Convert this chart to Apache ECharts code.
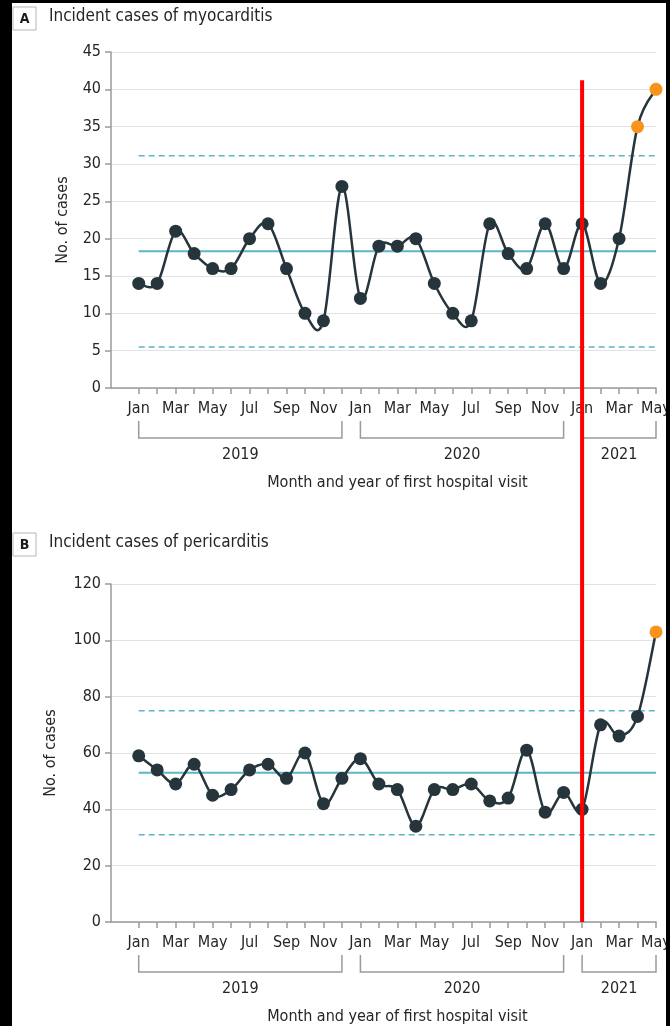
<!DOCTYPE html>
<html><head><meta charset="utf-8">
<script src="https://cdn.jsdelivr.net/npm/echarts@6/dist/echarts.min.js"></script>
<style>
html,body{margin:0;padding:0;background:#000;width:670px;height:1026px;overflow:hidden}
#chart{position:absolute;left:12px;top:3px;width:654px;height:1023px;background:#fff}
</style></head><body><div id="chart"></div>
<script>
// ---- data ----
const monthLabels = ['Jan','Feb','Mar','Apr','May','Jun','Jul','Aug','Sep','Oct','Nov','Dec',
  'Jan','Feb','Mar','Apr','May','Jun','Jul','Aug','Sep','Oct','Nov','Dec',
  'Jan','Feb','Mar','Apr','May'];
const monthIndex = monthLabels.map((m, i) => i);
const labelIndex = monthIndex.filter(i => i % 2 === 0);
const yearLabels = ['2019', '2020', '2021'];
const yearFirst = [0, 12, 24];
const yearLast = [11, 23, 28];

const myocarditis = [14,14,21,18,16,16,20,22,16,10,9,27,12,19,19,20,14,10,9,22,18,16,22,16,22,14,20,35,40];
const myoSignals = [27, 28];
const myoMean = 18.3, myoUpper = 31.1, myoLower = 5.5;

const pericarditis = [59,54,49,56,45,47,54,56,51,60,42,51,58,49,47,34,47,47,49,43,44,61,39,46,40,70,66,73,103];
const periSignals = [28];
const periMean = 53, periUpper = 75, periLower = 31;

const vaccineStart = 24;      // Jan 2021
const redTopA = 41.2;          // top of the red line, in panel A units

const titleA = 'Incident cases of myocarditis';
const titleB = 'Incident cases of pericarditis';
const xTitle = 'Month and year of first hospital visit';
const yTitle = 'No. of cases';

// ---- style ----
const FONT = "'Liberation Sans Narrow','DejaVu Sans Condensed','Open Sans',sans-serif";
const DARK = '#26353c', ORANGE = '#f7941d', TEAL = '#5db6c4', AXIS = '#9a9a9a', TXT = '#262626';
const TENSION = 1 / 6;

const chart = echarts.init(document.getElementById('chart'), null, {renderer: 'canvas'});

function xAxisCfg(gi) {
  return {
    type: 'value', gridIndex: gi, min: -1.5, max: 28,
    axisLine: {show: true, onZero: false, lineStyle: {color: AXIS, width: 1.5}},
    axisTick: {show: true, length: 6, customValues: monthIndex, lineStyle: {color: AXIS, width: 1.5}},
    axisLabel: {customValues: labelIndex, formatter: v => monthLabels[v], color: TXT,
      fontFamily: FONT, fontSize: 16, margin: 13},
    splitLine: {show: false}
  };
}
function yAxisCfg(gi, max, interval, gap) {
  return {
    type: 'value', gridIndex: gi, min: 0, max: max, interval: interval,
    name: yTitle, nameLocation: 'middle', nameGap: gap,
    nameTextStyle: {color: TXT, fontFamily: FONT, fontSize: 16},
    axisLine: {show: true, onZero: false, lineStyle: {color: AXIS, width: 1.5}},
    axisTick: {show: true, length: 6, lineStyle: {color: AXIS, width: 1.5}},
    axisLabel: {color: TXT, fontFamily: FONT, fontSize: 16, margin: 10},
    splitLine: {show: true, lineStyle: {color: '#e2e2e2', width: 1}}
  };
}
function curveSeries(gi, values) {
  const n = values.length;
  return {
    type: 'custom', xAxisIndex: gi, yAxisIndex: gi, silent: true, z: 4, clip: false,
    encode: {x: 0, y: 1},
    data: values.map((v, i) => [monthIndex[i], v]),
    renderItem: function (params, api) {
      const i = params.dataIndex;
      if (i >= n - 1) return {type: 'group', children: []};
      const P = j => {
        const c = Math.max(0, Math.min(n - 1, j));
        return api.coord([monthIndex[c], values[c]]);
      };
      const p0 = P(i - 1), p1 = P(i), p2 = P(i + 1), p3 = P(i + 2);
      return {type: 'bezierCurve', shape: {
          x1: p1[0], y1: p1[1], x2: p2[0], y2: p2[1],
          cpx1: p1[0] + (p2[0] - p0[0]) * TENSION, cpy1: p1[1] + (p2[1] - p0[1]) * TENSION,
          cpx2: p2[0] - (p3[0] - p1[0]) * TENSION, cpy2: p2[1] - (p3[1] - p1[1]) * TENSION},
        style: {stroke: DARK, lineWidth: 2.5, fill: null}};
    }
  };
}
function pointSeries(gi, values, signals) {
  return {
    type: 'scatter', xAxisIndex: gi, yAxisIndex: gi, z: 6,
    symbol: 'circle', symbolSize: 13,
    itemStyle: {color: DARK, opacity: 1},
    data: values.map((v, i) => signals.includes(i)
      ? {value: [monthIndex[i], v], itemStyle: {color: ORANGE}} : {value: [monthIndex[i], v]})
  };
}
function refSeries(gi, y, dashed) {
  return {
    type: 'line', xAxisIndex: gi, yAxisIndex: gi, symbol: 'none', z: 3, silent: true,
    lineStyle: {color: TEAL, width: dashed ? 1.5 : 2, type: dashed ? [6, 4] : 'solid'},
    data: [[monthIndex[0], y], [monthIndex[monthIndex.length - 1], y]]
  };
}
function bracketSeries(gi) {
  return {
    type: 'custom', xAxisIndex: gi, yAxisIndex: gi, silent: true, clip: false,
    encode: {x: 0, y: 1},
    data: yearLabels.map((y, k) => [yearFirst[k], 0, yearLast[k], k]),
    renderItem: function (params, api) {
      const p0 = api.coord([api.value(0), 0]);
      const p1 = api.coord([api.value(2), 0]);
      const yb = p0[1];
      return {type: 'group', children: [
        {type: 'polyline', shape: {points: [[p0[0], yb + 33], [p0[0], yb + 50], [p1[0], yb + 50], [p1[0], yb + 33]]},
          style: {stroke: AXIS, lineWidth: 1.5, fill: null}},
        {type: 'text', x: (p0[0] + p1[0]) / 2, y: yb + 67,
          style: {text: yearLabels[api.value(3)], fill: TXT, font: '16px ' + FONT, align: 'center', verticalAlign: 'middle'}}
      ]};
    }
  };
}
function xTitleSeries(gi) {
  return {
    type: 'custom', xAxisIndex: gi, yAxisIndex: gi, silent: true, clip: false,
    encode: {x: 0, y: 1},
    data: [[(monthIndex[0] + monthIndex[monthIndex.length - 1]) / 2, 0]],
    renderItem: function (params, api) {
      const p = api.coord([api.value(0), 0]);
      return {type: 'text', x: p[0], y: p[1] + 95,
        style: {text: xTitle, fill: TXT, font: '16px ' + FONT, align: 'center', verticalAlign: 'middle'}};
    }
  };
}

chart.setOption({
  animation: false,
  backgroundColor: '#fff',
  grid: [
    {left: 99, top: 49, width: 545, height: 336, outerBoundsMode: 'none', containLabel: false},
    {left: 99, top: 581, width: 545, height: 338, outerBoundsMode: 'none', containLabel: false}
  ],
  xAxis: [xAxisCfg(0), xAxisCfg(1)],
  yAxis: [yAxisCfg(0, 45, 5, 40), yAxisCfg(1, 120, 20, 52)],
  series: [
    refSeries(0, myoMean, false), refSeries(0, myoUpper, true), refSeries(0, myoLower, true),
    curveSeries(0, myocarditis), pointSeries(0, myocarditis, myoSignals),
    bracketSeries(0), xTitleSeries(0),
    refSeries(1, periMean, false), refSeries(1, periUpper, true), refSeries(1, periLower, true),
    curveSeries(1, pericarditis), pointSeries(1, pericarditis, periSignals),
    bracketSeries(1), xTitleSeries(1)
  ]
});

function panelTitle(letter, text, top) {
  return {type: 'group', x: 1, y: top, children: [
    {type: 'rect', shape: {x: 0, y: 0, width: 23, height: 23}, style: {fill: '#fff', stroke: '#b5b5b5', lineWidth: 1}},
    {type: 'text', x: 11.5, y: 12, style: {text: letter, fill: '#1a1a1a', font: 'bold 14px ' + FONT, align: 'center', verticalAlign: 'middle'}},
    {type: 'text', x: 36, y: 10, style: {text: text, fill: TXT, font: '17px ' + FONT, align: 'left', verticalAlign: 'middle'}}
  ]};
}
const pTop = chart.convertToPixel({xAxisIndex: 0, yAxisIndex: 0}, [vaccineStart, redTopA]);
const pBot = chart.convertToPixel({xAxisIndex: 1, yAxisIndex: 1}, [vaccineStart, 0]);
chart.setOption({
  graphic: [
    panelTitle('A', titleA, 4),
    panelTitle('B', titleB, 530),
    {type: 'line', z: 100, shape: {x1: pTop[0], y1: pTop[1], x2: pBot[0], y2: pBot[1]},
      style: {stroke: '#ff0000', lineWidth: 4}}
  ]
});
</script></body></html>
